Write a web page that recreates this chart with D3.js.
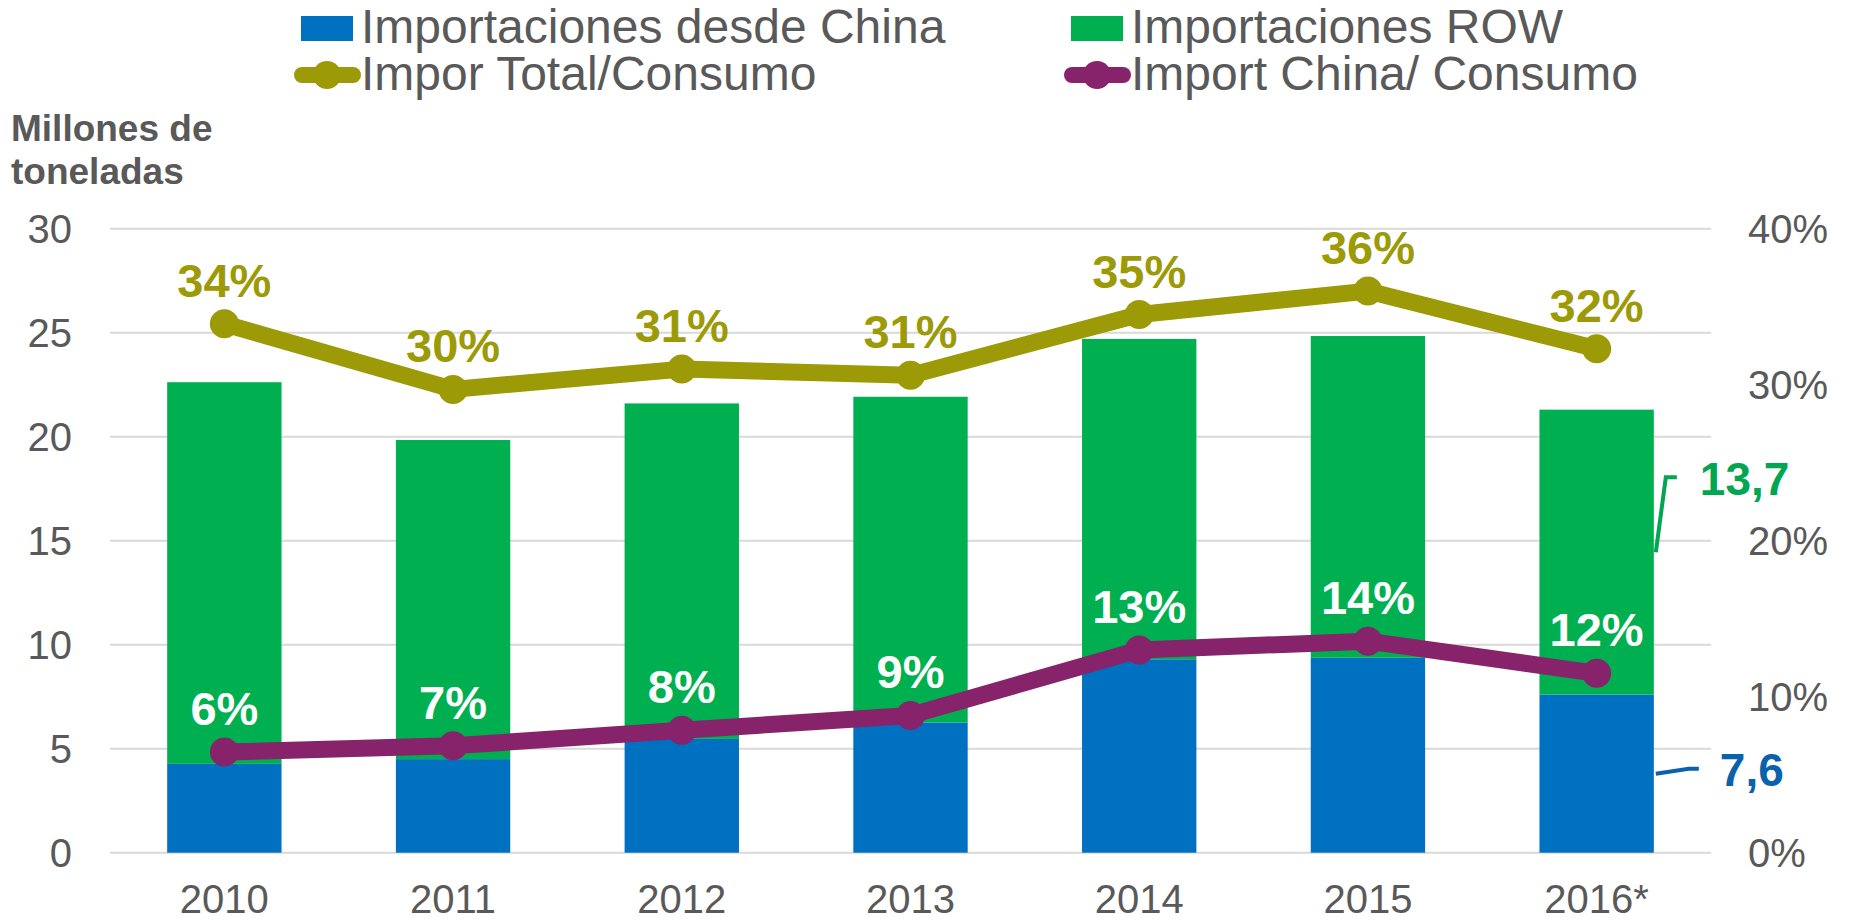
<!DOCTYPE html>
<html>
<head>
<meta charset="utf-8">
<script src="https://cdn.jsdelivr.net/npm/d3@7"></script>
<style>
  html, body { margin: 0; padding: 0; background: #fff; }
  svg { display: block; font-family: "Liberation Sans", Arial, sans-serif; }
</style>
</head>
<body>
<svg id="chart" width="1853" height="923"></svg>
<script>
// ---- data ----
const categories = ["2010", "2011", "2012", "2013", "2014", "2015", "2016*"];
const importChina = [4.27, 4.5, 5.47, 6.26, 9.3, 9.37, 7.6];
const importROW = [18.35, 15.34, 16.13, 15.66, 15.4, 15.47, 13.7];
const totalRatio = [0.339, 0.297, 0.310, 0.306, 0.345, 0.360, 0.323];
const totalRatioLabels = ["34%", "30%", "31%", "31%", "35%", "36%", "32%"];
const chinaRatio = [0.0645, 0.0685, 0.0785, 0.088, 0.130, 0.1356, 0.115];
const chinaRatioLabels = ["6%", "7%", "8%", "9%", "13%", "14%", "12%"];
const leftTicks = [0, 5, 10, 15, 20, 25, 30];
const rightTicks = [0, 0.1, 0.2, 0.3, 0.4];
const seriesNames = ["Importaciones desde China", "Importaciones ROW", "Impor Total/Consumo", "Import China/ Consumo"];
const yTitle = ["Millones de", "toneladas"];
const lastROWLabel = "13,7";
const lastChinaLabel = "7,6";

(function () {
// ---- style ----
const C = { blue: "#0070C0", green: "#00B050", olive: "#9C9A06", purple: "#86236A",
            text: "#595959", grid: "#D9D9D9", blueLbl: "#0A62AC", greenLbl: "#00A651" };

const svg = d3.select("#chart");
const pLeft = 110, pRight = 1711, pTop = 228.7, pBottom = 852.7;

const x = d3.scaleBand().domain(categories).range([pLeft, pRight]).paddingInner(0.5).paddingOuter(0.25);
const y = d3.scaleLinear().domain([0, 30]).range([pBottom, pTop]);
const y2 = d3.scaleLinear().domain([0, 0.4]).range([pBottom, pTop]);
const FF = "Liberation Sans, Arial, sans-serif";

// gridlines
svg.append("g").selectAll("line").data(leftTicks).join("line")
  .attr("x1", pLeft).attr("x2", pRight)
  .attr("y1", d => y(d)).attr("y2", d => y(d))
  .attr("stroke", C.grid).attr("stroke-width", 2);

// left axis
const yAxis = d3.axisLeft(y).tickValues(leftTicks).tickSize(0).tickPadding(0).tickFormat(d3.format("d"));
const gL = svg.append("g").attr("transform", "translate(72,0)").call(yAxis);
gL.select(".domain").remove();
gL.selectAll("text").attr("font-size", 40).attr("fill", C.text).attr("font-family", FF).attr("dy", "0.35em").attr("x", 0);

// right axis
const yAxisR = d3.axisRight(y2).tickValues(rightTicks).tickSize(0).tickPadding(0).tickFormat(d3.format(".0%"));
const gR = svg.append("g").attr("transform", "translate(1748,0)").call(yAxisR);
gR.select(".domain").remove();
gR.selectAll("text").attr("font-size", 40).attr("fill", C.text).attr("font-family", FF).attr("dy", "0.35em").attr("x", 0);

// x axis
const xAxis = d3.axisBottom(x).tickSize(0).tickPadding(0);
const gX = svg.append("g").attr("transform", "translate(0,913)").call(xAxis);
gX.select(".domain").remove();
gX.selectAll("text").attr("font-size", 40).attr("fill", C.text).attr("font-family", FF).attr("dy", 0).attr("y", 0);

// stacked bars
const stackData = categories.map((c, i) => ({ cat: c, china: importChina[i], row: importROW[i] }));
const stack = d3.stack().keys(["china", "row"])(stackData);
const colors = { china: C.blue, row: C.green };
svg.append("g").selectAll("g").data(stack).join("g")
  .attr("fill", d => colors[d.key])
  .selectAll("rect").data(d => d).join("rect")
  .attr("x", d => x(d.data.cat))
  .attr("width", x.bandwidth())
  .attr("y", d => y(d[1]))
  .attr("height", d => y(d[0]) - y(d[1]));

// lines
const cx = i => x(categories[i]) + x.bandwidth() / 2;
function drawLine(vals, color) {
  const line = d3.line().x((d, i) => cx(i)).y(d => y2(d));
  svg.append("path").datum(vals).attr("d", line)
    .attr("fill", "none").attr("stroke", color).attr("stroke-width", 17)
    .attr("stroke-linejoin", "round");
  svg.append("g").selectAll("circle").data(vals).join("circle")
    .attr("cx", (d, i) => cx(i)).attr("cy", d => y2(d)).attr("r", 14.5).attr("fill", color);
}
drawLine(totalRatio, C.olive);
drawLine(chinaRatio, C.purple);

// line labels
svg.append("g").selectAll("text").data(totalRatio).join("text")
  .attr("x", (d, i) => cx(i)).attr("y", d => y2(d) - 27)
  .attr("text-anchor", "middle").attr("font-size", 47).attr("font-weight", "bold")
  .attr("fill", C.olive).text((d, i) => totalRatioLabels[i]);
svg.append("g").selectAll("text").data(chinaRatio).join("text")
  .attr("x", (d, i) => cx(i)).attr("y", d => y2(d) - 27)
  .attr("text-anchor", "middle").attr("font-size", 47).attr("font-weight", "bold")
  .attr("fill", "#fff").text((d, i) => chinaRatioLabels[i]);

// last-bar data labels with leader lines
const n = categories.length - 1;
const barRight = x(categories[n]) + x.bandwidth();
const rowMid = y(importChina[n] + importROW[n] / 2);
const chinaMid = y(importChina[n] / 2);
svg.append("path")
  .attr("d", `M${barRight + 2},${rowMid} L${barRight + 12},${rowMid - 75} L${barRight + 23},${rowMid - 75}`)
  .attr("fill", "none").attr("stroke", C.greenLbl).attr("stroke-width", 4);
svg.append("text").attr("x", barRight + 46).attr("y", rowMid - 57)
  .attr("font-size", 46).attr("font-weight", "bold").attr("fill", C.greenLbl).text(lastROWLabel);
svg.append("path")
  .attr("d", `M${barRight + 2},${chinaMid} L${barRight + 35},${chinaMid - 5} L${barRight + 45},${chinaMid - 5}`)
  .attr("fill", "none").attr("stroke", C.blueLbl).attr("stroke-width", 4);
svg.append("text").attr("x", barRight + 66).attr("y", chinaMid + 12)
  .attr("font-size", 46).attr("font-weight", "bold").attr("fill", C.blueLbl).text(lastChinaLabel);

// y title
svg.append("g").selectAll("text").data(yTitle).join("text")
  .attr("x", 11).attr("y", (d, i) => 141 + i * 43)
  .attr("font-size", 37).attr("font-weight", "bold").attr("fill", C.text).text(d => d);

// legend
const legX = [301, 1071];
const lg = svg.append("g");
[[0, C.blue], [1, C.green]].forEach(([k, col]) => {
  lg.append("rect").attr("x", legX[k]).attr("y", 16).attr("width", 52).attr("height", 25).attr("fill", col);
  lg.append("text").attr("x", legX[k] + 60).attr("y", 43).attr("font-size", 48).attr("fill", C.text).text(seriesNames[k]);
});
[[0, C.olive, 2], [1, C.purple, 3]].forEach(([k, col, s]) => {
  const x0 = legX[k] - 7;
  lg.append("line").attr("x1", x0 + 8).attr("x2", x0 + 59).attr("y1", 75).attr("y2", 75)
    .attr("stroke", col).attr("stroke-width", 16).attr("stroke-linecap", "round");
  lg.append("circle").attr("cx", x0 + 33).attr("cy", 75).attr("r", 14).attr("fill", col);
  lg.append("text").attr("x", legX[k] + 60).attr("y", 90).attr("font-size", 48).attr("fill", C.text).text(seriesNames[s]);
});
})();
</script>
</body>
</html>
